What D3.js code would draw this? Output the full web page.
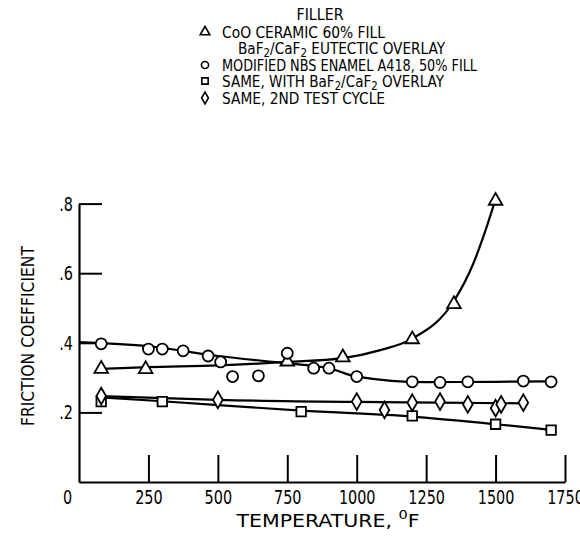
<!DOCTYPE html>
<html>
<head>
<meta charset="utf-8">
<script src="https://cdn.jsdelivr.net/npm/d3@7"></script>
<style>
  body { margin: 0; background: #fff; }
  svg { display: block; }
  text { font-family: "DejaVu Sans Condensed", "DejaVu Sans", sans-serif; fill: #000; }
</style>
</head>
<body>
<svg width="580" height="539"></svg>
<script>
// measured points (temperature F, friction coefficient)
const cooTemps = [80, 240, 750, 950, 1200, 1350, 1500];
const cooValues = [0.325, 0.324, 0.346, 0.358, 0.41, 0.511, 0.808];

const nbsTemps = [80, 250, 300, 375, 465, 510, 553, 646, 750, 845, 900, 1000, 1200, 1300, 1400, 1600, 1700];
const nbsValues = [0.397, 0.382, 0.382, 0.377, 0.362, 0.345, 0.303, 0.305, 0.37, 0.327, 0.327, 0.303, 0.288, 0.286, 0.288, 0.29, 0.288];

const overlayTemps = [80, 300, 800, 1200, 1500, 1700];
const overlayValues = [0.231, 0.231, 0.202, 0.19, 0.166, 0.149];

const cycleTemps = [80, 500, 1000, 1100, 1200, 1300, 1400, 1500, 1520, 1600];
const cycleValues = [0.247, 0.236, 0.231, 0.207, 0.228, 0.231, 0.223, 0.212, 0.223, 0.228];

// faired curves as drawn on the figure
const cooFitTemps = [80, 250, 500, 750, 950, 1085, 1200, 1350, 1420, 1456, 1495];
const cooFitValues = [0.325, 0.33, 0.335, 0.345, 0.356, 0.379, 0.412, 0.52, 0.628, 0.705, 0.8];

const nbsFitTemps = [0, 250, 500, 750, 900, 1000, 1250, 1500, 1700];
const nbsFitValues = [0.402, 0.39, 0.362, 0.341, 0.327, 0.303, 0.287, 0.288, 0.289];

const overlayFitTemps = [80, 300, 800, 1200, 1500, 1700];
const overlayFitValues = [0.243, 0.232, 0.205, 0.188, 0.166, 0.15];

const cycleFitTemps = [80, 500, 1000, 1300, 1600];
const cycleFitValues = [0.247, 0.236, 0.23, 0.228, 0.226];

const xTicks = [0, 250, 500, 750, 1000, 1250, 1500, 1750];
const yTicks = [0.2, 0.4, 0.6, 0.8];

const svg = d3.select("svg");

const x = d3.scaleLinear().domain([0, 1750]).range([79, 565]);
const y = d3.scaleLinear().domain([0, 0.8]).range([482, 203.6]);

const squeeze = 0.8; // narrow lettering of the original

// axes
const xAxis = d3.axisBottom(x)
  .tickValues(xTicks)
  .tickSize(-27)
  .tickSizeOuter(0)
  .tickPadding(8)
  .tickFormat(d3.format("d"));

const gx = svg.append("g")
  .attr("transform", `translate(0,${y(0)})`)
  .call(xAxis);

const yAxis = d3.axisLeft(y)
  .tickValues(yTicks)
  .tickSize(-23)
  .tickSizeOuter(0)
  .tickPadding(6)
  .tickFormat(d => "." + Math.round(d * 10));

const gy = svg.append("g")
  .attr("transform", `translate(${x(0)},0)`)
  .call(yAxis);

[gx, gy].forEach(g => {
  g.select(".domain").attr("stroke", "#000").attr("stroke-width", 2.2);
  g.selectAll(".tick line").attr("stroke", "#000").attr("stroke-width", 2);
  g.selectAll(".tick text").attr("font-size", 20).attr("fill", "#000")
    .attr("font-family", "'DejaVu Sans Condensed', 'DejaVu Sans', sans-serif")
    .attr("transform", `scale(${squeeze},1)`);
});
gy.selectAll(".tick text").attr("x", -6 / squeeze);
gx.selectAll(".tick").filter(d => d === 0).select("line").remove();
gx.selectAll(".tick").filter(d => d === 0).select("text").attr("x", -12 / squeeze);

// axis titles
const xt = svg.append("text")
  .attr("x", 328)
  .attr("y", 527)
  .attr("text-anchor", "middle")
  .attr("font-size", 17)
  .attr("textLength", 183)
  .attr("lengthAdjust", "spacingAndGlyphs");
xt.append("tspan").text("TEMPERATURE,   ");
xt.append("tspan").attr("font-size", 12).attr("dy", -8).text("0");
xt.append("tspan").attr("dy", 8).text("F");

svg.append("text")
  .attr("transform", "translate(34,336) rotate(-90)")
  .attr("text-anchor", "middle")
  .attr("font-size", 18)
  .attr("textLength", 180)
  .attr("lengthAdjust", "spacingAndGlyphs")
  .text("FRICTION COEFFICIENT");

// curves
const line = d3.line()
  .x(d => x(d[0]))
  .y(d => y(d[1]))
  .curve(d3.curveMonotoneX);

const fits = [
  [cooFitTemps, cooFitValues],
  [nbsFitTemps, nbsFitValues],
  [overlayFitTemps, overlayFitValues],
  [cycleFitTemps, cycleFitValues]
];

svg.append("g")
  .selectAll("path")
  .data(fits)
  .join("path")
  .attr("d", f => line(d3.zip(f[0], f[1])))
  .attr("fill", "none")
  .attr("stroke", "#000")
  .attr("stroke-width", 2.2);

// markers
const symbolTypes = {
  triangle: d3.symbolTriangle,
  circle: d3.symbolCircle,
  square: d3.symbolSquare,
  diamond: d3.symbolDiamond
};
const symbolSizes = { triangle: 80, circle: 95, square: 90, diamond: 80 };

const series = [
  { temps: cooTemps, values: cooValues, shape: "triangle" },
  { temps: nbsTemps, values: nbsValues, shape: "circle" },
  { temps: overlayTemps, values: overlayValues, shape: "square" },
  { temps: cycleTemps, values: cycleValues, shape: "diamond" }
];

series.forEach(s => {
  svg.append("g")
    .selectAll("path")
    .data(d3.zip(s.temps, s.values))
    .join("path")
    .attr("d", d3.symbol().type(symbolTypes[s.shape]).size(symbolSizes[s.shape]))
    .attr("transform", d => `translate(${x(d[0])},${y(d[1])})`)
    .attr("fill", "#fff")
    .attr("stroke", "#000")
    .attr("stroke-width", 1.8);
});

// legend
svg.append("text")
  .attr("x", 320)
  .attr("y", 20)
  .attr("text-anchor", "middle")
  .attr("font-size", 16)
  .attr("textLength", 47)
  .attr("lengthAdjust", "spacingAndGlyphs")
  .text("FILLER");

const legendRows = [
  { shape: "triangle", y: 32, w: 163, parts: [["CoO CERAMIC 60% FILL"]] },
  { shape: null, y: 48, indent: 16, w: 207, parts: [["BaF"], ["2", "sub"], ["/CaF"], ["2", "sub"], [" EUTECTIC OVERLAY"]] },
  { shape: "circle", y: 65, w: 255, parts: [["MODIFIED NBS ENAMEL A418,  50% FILL"]] },
  { shape: "square", y: 81, w: 222, parts: [["SAME,  WITH BaF"], ["2", "sub"], ["/CaF"], ["2", "sub"], [" OVERLAY"]] },
  { shape: "diamond", y: 98, w: 163, parts: [["SAME,  2ND TEST CYCLE"]] }
];

const legend = svg.append("g");
legendRows.forEach(r => {
  if (r.shape) {
    legend.append("path")
      .attr("d", d3.symbol().type(symbolTypes[r.shape]).size(40)())
      .attr("transform", `translate(205,${r.y})`)
      .attr("fill", "#fff")
      .attr("stroke", "#000")
      .attr("stroke-width", 1.6);
  }
  const t = legend.append("text")
    .attr("x", 222 + (r.indent || 0))
    .attr("y", r.y + 6)
    .attr("font-size", 16)
    .attr("textLength", r.w)
    .attr("lengthAdjust", "spacingAndGlyphs");
  let sub = false;
  r.parts.forEach(p => {
    const ts = t.append("tspan").text(p[0]);
    if (p[1] === "sub") {
      ts.attr("font-size", 12);
      if (!sub) { ts.attr("dy", 3); sub = true; }
    } else if (sub) { ts.attr("dy", -3); sub = false; }
  });
});
</script>
</body>
</html>
